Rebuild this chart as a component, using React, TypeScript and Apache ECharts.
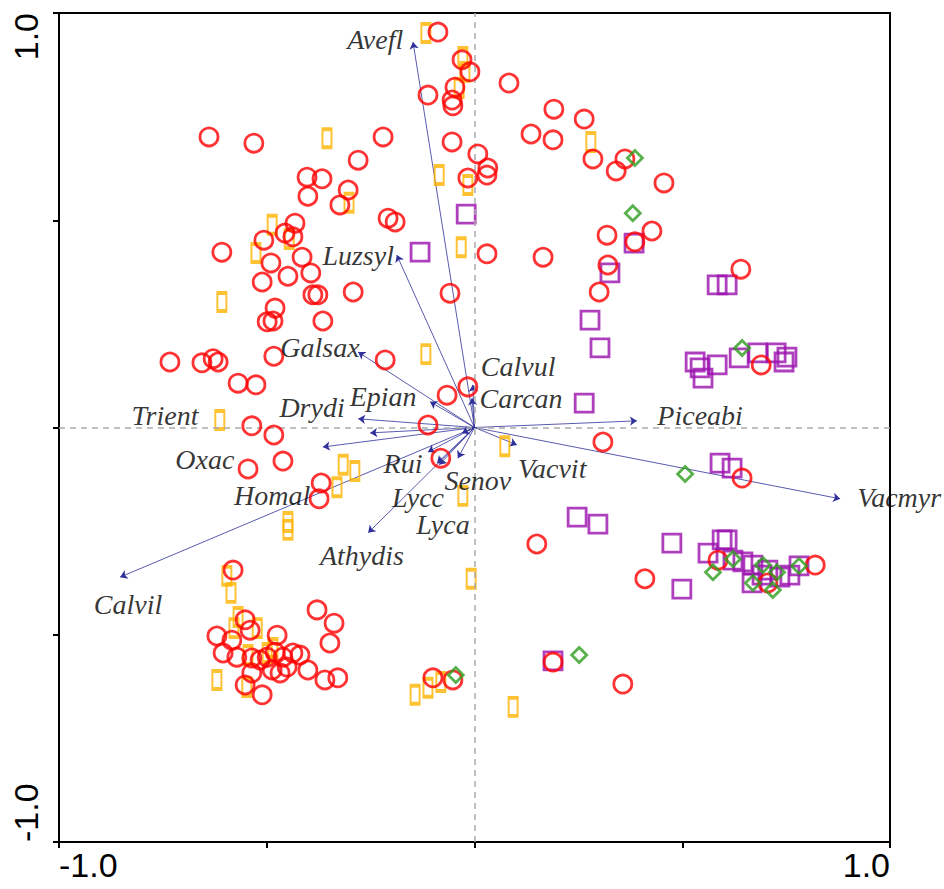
import React, { useEffect, useRef } from 'react';
import * as echarts from 'echarts';

// Species (arrows) – tip coordinates and label centres
const species = ['Avefl', 'Luzsyl', 'Galsax', 'Epian', 'Drydi', 'Trient', 'Oxac', 'Homal', 'Calvil', 'Calvul', 'Carcan', 'Piceabi', 'Vacvit', 'Vacmyr', 'Rui', 'Senov', 'Lycc', 'Lyca', 'Athydis'];
const tipX = [-0.148, -0.187, -0.280, -0.107, -0.280, -0.251, -0.365, -0.030, -0.853, -0.004, -0.006, 0.391, 0.102, 0.880, -0.112, -0.040, -0.090, -0.085, -0.256];
const tipY = [0.930, 0.416, 0.182, 0.062, 0.021, -0.013, -0.047, -0.013, -0.361, 0.103, 0.071, 0.016, -0.042, -0.172, -0.059, -0.074, -0.086, -0.090, -0.254];
const labelX = [-0.239, -0.280, -0.372, -0.220, -0.391, -0.745, -0.649, -0.487, -0.834, 0.105, 0.112, 0.543, 0.187, 1.022, -0.172, 0.008, -0.136, -0.076, -0.271];
const labelY = [0.935, 0.414, 0.192, 0.074, 0.049, 0.030, -0.078, -0.165, -0.428, 0.148, 0.071, 0.030, -0.098, -0.168, -0.086, -0.129, -0.168, -0.235, -0.310];

// Samples – red circles
const circleX = [-0.088, -0.030, -0.011, -0.112, -0.047, -0.054, -0.052, 0.083, -0.220, -0.280, -0.054, 0.008, 0.032, 0.030, -0.016,
  -0.639, -0.531, -0.403, -0.367, -0.401, -0.324, -0.304, -0.432, -0.456, -0.437, -0.507, -0.608, -0.490, -0.415, -0.394, -0.449, -0.511, -0.389, -0.377, -0.480, -0.499, -0.485, -0.365, -0.292, -0.208, -0.191, -0.059, 0.030,
  -0.733, -0.656, -0.629, -0.617, -0.483, -0.569, -0.526, -0.536, -0.483, -0.545, -0.461, -0.369, -0.374, -0.215, -0.066, -0.016, -0.112, -0.081, 0.309,
  0.191, 0.136, 0.189, 0.264, 0.285, 0.362, 0.341, 0.456, 0.427, 0.319, 0.386, 0.165, 0.321, 0.300, 0.641, 0.690, 0.644, 0.410, 0.586, 0.706, 0.820, 0.150, 0.189, 0.357, -0.100, -0.052,
  -0.581, -0.552, -0.540, -0.620, -0.584, -0.605, -0.572, -0.536, -0.516, -0.475, -0.480, -0.499, -0.461, -0.437, -0.420, -0.451, -0.487, -0.536, -0.401, -0.360, -0.329, -0.552, -0.511, -0.379, -0.338, -0.348, -0.468];
const circleY = [0.954, 0.887, 0.858, 0.802, 0.821, 0.790, 0.776, 0.831, 0.701, 0.645, 0.689, 0.660, 0.626, 0.609, 0.602,
  0.701, 0.686, 0.604, 0.600, 0.558, 0.537, 0.573, 0.493, 0.469, 0.460, 0.452, 0.423, 0.397, 0.411, 0.373, 0.365, 0.351, 0.320, 0.320, 0.288, 0.255, 0.257, 0.257, 0.327, 0.505, 0.496, 0.324, 0.419,
  0.158, 0.156, 0.166, 0.158, 0.172, 0.107, 0.103, 0.004, -0.018, -0.100, -0.081, -0.134, -0.172, 0.163, 0.078, 0.098, 0.006, -0.074, -0.035,
  0.768, 0.708, 0.694, 0.744, 0.648, 0.648, 0.619, 0.590, 0.474, 0.464, 0.448, 0.411, 0.392, 0.327, 0.382, 0.151, -0.122, -0.365, -0.320, -0.375, -0.332, -0.281, -0.566, -0.619, -0.604, -0.609,
  -0.344, -0.464, -0.489, -0.503, -0.513, -0.544, -0.554, -0.556, -0.561, -0.501, -0.542, -0.554, -0.554, -0.544, -0.549, -0.578, -0.585, -0.592, -0.585, -0.609, -0.604, -0.621, -0.645, -0.440, -0.472, -0.520, -0.592];

// Samples – orange bars
const rectX = [-0.117, -0.028, -0.023, -0.037, -0.355, -0.085, -0.016, 0.280, -0.302, -0.487, -0.446, -0.526, -0.608, -0.032, -0.117, -0.613, -0.316, -0.288, -0.331, -0.449, -0.449, 0.073, -0.028, -0.008, -0.596, -0.586, -0.569, -0.579, -0.523, -0.485, -0.499, -0.545, -0.620, -0.548, -0.143, -0.112, -0.081, 0.093];
const rectY = [0.952, 0.894, 0.858, 0.819, 0.698, 0.609, 0.585, 0.689, 0.542, 0.489, 0.455, 0.421, 0.303, 0.435, 0.177, 0.018, -0.090, -0.105, -0.144, -0.228, -0.247, -0.045, -0.165, -0.365, -0.358, -0.399, -0.457, -0.484, -0.484, -0.532, -0.544, -0.549, -0.609, -0.626, -0.645, -0.628, -0.614, -0.674];

// Samples – purple squares
const squareX = [-0.020, -0.131, 0.384, 0.326, 0.278, 0.302, 0.584, 0.608, 0.531, 0.543, 0.584, 0.550, 0.637, 0.682, 0.726, 0.752, 0.745, 0.264, 0.591, 0.620, 0.247, 0.297, 0.475, 0.562, 0.608, 0.596, 0.622, 0.499, 0.670, 0.706, 0.735, 0.759, 0.781, 0.668, 0.646, 0.692, 0.189];
const squareY = [0.515, 0.423, 0.445, 0.373, 0.259, 0.192, 0.344, 0.344, 0.158, 0.144, 0.151, 0.119, 0.168, 0.180, 0.180, 0.170, 0.158, 0.059, -0.086, -0.098, -0.216, -0.233, -0.279, -0.303, -0.271, -0.271, -0.320, -0.390, -0.332, -0.344, -0.361, -0.356, -0.334, -0.375, -0.324, -0.356, -0.563];

// Samples – green diamonds
const diamondX = [0.386, 0.381, 0.644, 0.507, 0.574, 0.622, 0.670, 0.718, 0.728, 0.781, 0.694, 0.252, -0.045];
const diamondY = [0.650, 0.517, 0.192, -0.112, -0.349, -0.317, -0.375, -0.392, -0.349, -0.334, -0.332, -0.549, -0.597];

const tickLabelText: Record<string, string> = { '-1': '-1.0', '1': '1.0' };

const zip = (xs: number[], ys: number[]) => xs.map((x, i) => [x, ys[i]]);
const hollow = (color: string, w = 2.8) => ({ color: 'rgba(0,0,0,0)', borderColor: color, borderWidth: w });

export default function App() {
  const ref = useRef<HTMLDivElement>(null);
  useEffect(() => {
    const chart = echarts.init(ref.current!, undefined, { renderer: 'svg' });
    const axisCommon = {
      type: 'value',
      min: -1,
      max: 1,
      interval: 0.5,
      splitLine: { show: false },
      axisLine: { show: true, onZero: false, lineStyle: { color: '#000', width: 2 } },
      axisTick: { show: true, length: 6, lineStyle: { color: '#000', width: 2 } },
    };
    const labelCommon = {
      fontSize: 34,
      fontFamily: 'Liberation Sans',
      color: '#000',
      showMinLabel: true,
      showMaxLabel: true,
      formatter: (v: number) => tickLabelText[String(v)] ?? '',
      alignMinLabel: 'left',
      alignMaxLabel: 'right',
    };
    chart.setOption({
      animation: false,
      backgroundColor: '#fff',
      grid: { left: 59, top: 13, right: 54, bottom: 47, show: true, borderColor: '#000', borderWidth: 2, backgroundColor: 'rgba(0,0,0,0)' },
      xAxis: { ...axisCommon, axisLabel: { ...labelCommon, margin: 6 } },
      yAxis: { ...axisCommon, axisLabel: { ...labelCommon, rotate: 90, margin: 16 } },
      series: [
        {
          type: 'scatter',
          name: 'zero',
          data: [],
          markLine: {
            silent: true,
            symbol: 'none',
            label: { show: false },
            lineStyle: { type: [6, 5], color: '#aaaaaa', width: 1.5 },
            data: [{ xAxis: 0 }, { yAxis: 0 }],
          },
        },
        {
          type: 'lines',
          coordinateSystem: 'cartesian2d',
          symbol: ['none', 'arrow'],
          symbolSize: 7,
          lineStyle: { color: '#30309a', width: 0.8, opacity: 1 },
          data: species.map((s, i) => ({ name: s, coords: [[0, 0], [tipX[i], tipY[i]]] })),
          z: 3,
        },
        {
          type: 'scatter',
          name: 'rect',
          symbol: 'rect',
          symbolSize: [9, 18],
          itemStyle: hollow('#FFB300'),
          data: zip(rectX, rectY),
          z: 4,
        },
        {
          type: 'scatter',
          name: 'square',
          symbol: 'rect',
          symbolSize: 18,
          itemStyle: hollow('#9A10AE'),
          data: zip(squareX, squareY),
          z: 4,
        },
        {
          type: 'scatter',
          name: 'circle',
          symbol: 'circle',
          symbolSize: 18,
          itemStyle: hollow('#FF0000'),
          data: zip(circleX, circleY),
          z: 5,
        },
        {
          type: 'scatter',
          name: 'diamond',
          symbol: 'diamond',
          symbolSize: 15,
          itemStyle: hollow('#2E9E1E'),
          data: zip(diamondX, diamondY),
          z: 6,
        },
        {
          type: 'scatter',
          name: 'labels',
          clip: false,
          symbolSize: 1,
          itemStyle: { color: 'rgba(0,0,0,0)' },
          label: {
            show: true,
            position: 'inside',
            formatter: '{b}',
            fontFamily: 'Liberation Serif',
            fontStyle: 'italic',
            fontSize: 28,
            color: '#000',
          },
          data: species.map((s, i) => ({ name: s, value: [labelX[i], labelY[i]] })),
          z: 7,
        },
      ],
    });
    return () => chart.dispose();
  }, []);
  return <div ref={ref} style={{ position: 'fixed', left: 0, top: 0, width: 944, height: 889, background: '#fff' }} />;
}
